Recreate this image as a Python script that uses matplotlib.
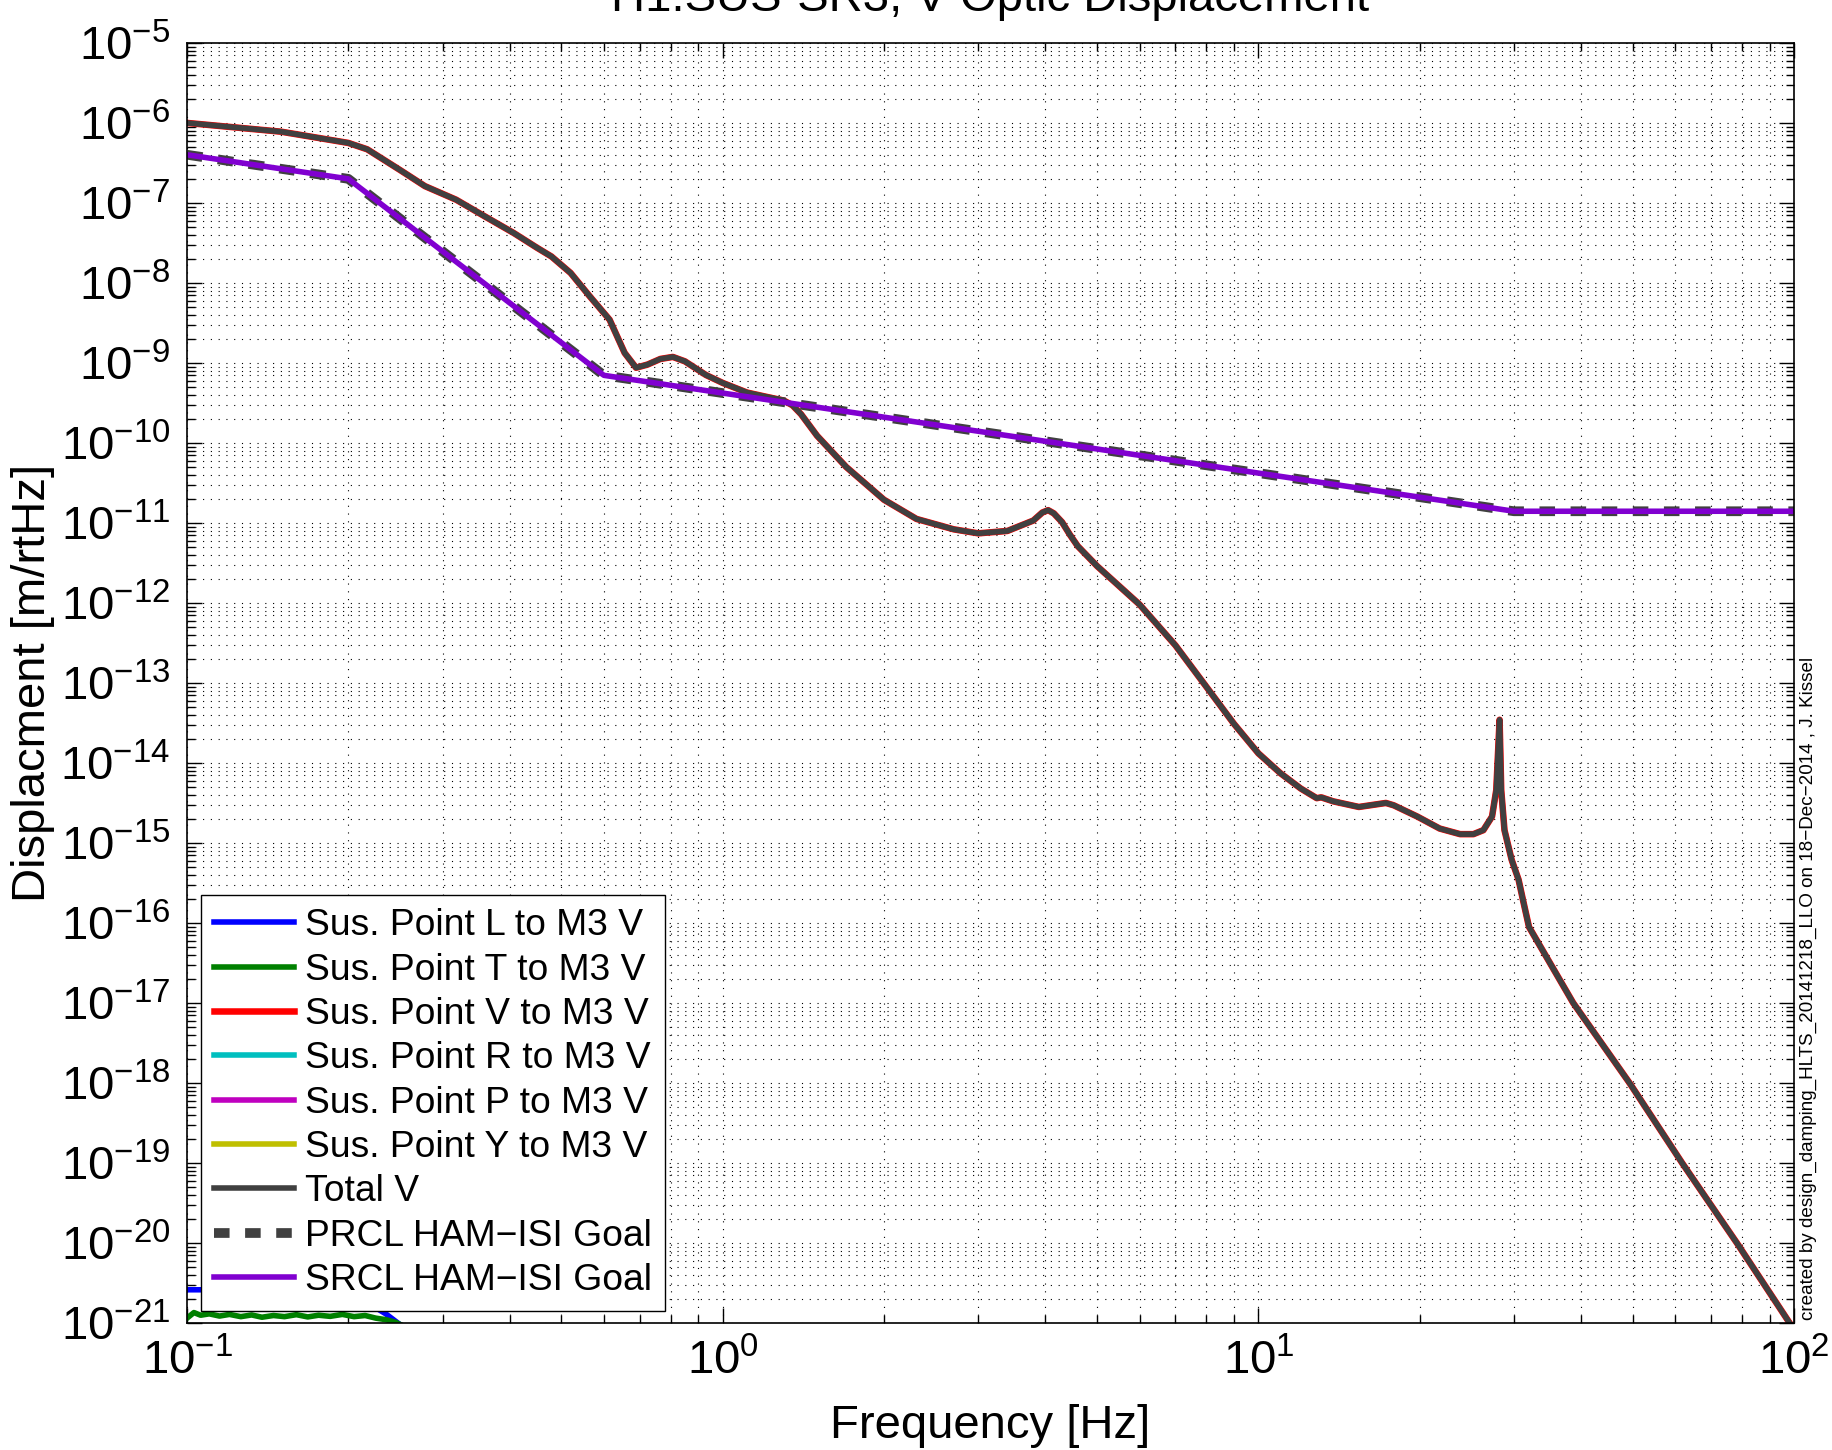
import numpy as np
import matplotlib
matplotlib.use("Agg")
import matplotlib.pyplot as plt
from matplotlib.ticker import LogLocator, NullFormatter

plt.rcParams["font.family"] = ["Liberation Sans", "DejaVu Sans"]
plt.rcParams["mathtext.fontset"] = "custom"
plt.rcParams["mathtext.rm"] = "Liberation Sans"
plt.rcParams["mathtext.it"] = "Liberation Sans:italic"
plt.rcParams["mathtext.bf"] = "Liberation Sans:bold"

# Total V optic displacement, log10 of m/rtHz
freq_total = [0.1, 0.15, 0.2, 0.217, 0.25, 0.278, 0.318, 0.36, 0.407, 0.45,
              0.479, 0.52, 0.565, 0.615, 0.656, 0.689, 0.724, 0.765, 0.807, 0.85,
              0.93, 1.0, 1.11, 1.2, 1.3, 1.35, 1.4, 1.5, 1.7, 2.0, 2.3,
              2.7, 3.0, 3.4, 3.8, 3.95, 4.05, 4.15, 4.3, 4.45, 4.6, 5.0, 6.0, 7.0,
              8.0, 9.0, 10, 11, 12, 12.85, 13.1, 13.8, 15.4, 17.3,
              17.9, 19.8, 21.8, 23.8, 25.2, 26.3, 27.3, 27.8, 28.2, 28.4,
              28.8, 29.7, 30.6, 31.2, 32.0, 38.7, 49.3, 61.8, 78.2, 98.1, 100]
log_total = [-6.0, -6.11, -6.25, -6.33, -6.59, -6.79, -6.96, -7.17, -7.375, -7.56,
             -7.67, -7.875, -8.17, -8.46, -8.875, -9.06, -9.02, -8.95, -8.925, -8.98,
             -9.15, -9.25, -9.37, -9.42, -9.47, -9.53, -9.64, -9.91, -10.30, -10.71, -10.95,
             -11.08, -11.13, -11.10, -10.97, -10.87, -10.84, -10.88, -10.99, -11.15, -11.29,
             -11.54, -12.02, -12.53,
             -13.05, -13.51, -13.88, -14.13, -14.32, -14.44, -14.43, -14.48, -14.55, -14.50,
             -14.53, -14.67, -14.82, -14.89, -14.89, -14.84, -14.67, -14.34, -13.46, -14.34,
             -14.84, -15.21, -15.46, -15.72, -16.05, -17.0, -18.0, -19.0, -20.0, -21.0, -21.08]

# HAM-ISI goals
freq_goal = [0.1, 0.2, 0.6, 30, 100]
prcl_goal = [4e-7, 2e-7, 7e-10, 1.4e-11, 1.4e-11]
srcl_goal = [4e-7, 2e-7, 7e-10, 1.4e-11, 1.4e-11]

# individual suspension point contributions (mostly below the plotted range)
freq_L = [0.1, 0.15, 0.2, 0.22, 0.235, 0.25, 0.3, 0.5, 1, 100]
sus_L = [2.6e-21, 2.6e-21, 2.4e-21, 1.7e-21, 1.3e-21, 9.5e-22, 4e-22, 2e-23, 1e-24, 1e-30]
freq_T = [0.100, 0.103, 0.106, 0.110, 0.115, 0.120, 0.126, 0.132, 0.138, 0.145,
          0.152, 0.160, 0.168, 0.176, 0.185, 0.195, 0.205, 0.215, 0.225, 0.235,
          0.245, 0.255, 0.3, 0.5, 1, 100]
sus_T = [1.15e-21, 1.35e-21, 1.25e-21, 1.3e-21, 1.22e-21, 1.28e-21, 1.2e-21, 1.26e-21, 1.18e-21, 1.24e-21,
         1.2e-21, 1.27e-21, 1.19e-21, 1.25e-21, 1.21e-21, 1.28e-21, 1.2e-21, 1.24e-21, 1.15e-21, 1.1e-21,
         1.02e-21, 9e-22, 4e-22, 2e-23, 1e-24, 1e-30]
freq_small = [0.1, 1, 100]
sus_R = [5e-23, 1e-24, 1e-30]
sus_P = [3e-23, 8e-25, 1e-30]
sus_Y = [2e-23, 5e-25, 1e-30]

total_V = 10.0 ** np.array(log_total)

fig = plt.figure(figsize=(18.32, 14.5), dpi=100)
ax = fig.add_axes([0.1021, 0.0876, 0.8772, 0.8828])

lw = 4.0
ax.loglog(freq_L, sus_L, color="#0000FF", lw=lw, label="Sus. Point L to M3 V")
ax.loglog(freq_T, sus_T, color="#008000", lw=lw, label="Sus. Point T to M3 V")
ax.loglog(freq_total, total_V, color="#FF0000", lw=lw + 0.7, label="Sus. Point V to M3 V")
ax.loglog(freq_small, sus_R, color="#00BFBF", lw=lw, label="Sus. Point R to M3 V")
ax.loglog(freq_small, sus_P, color="#BF00BF", lw=lw, label="Sus. Point P to M3 V")
ax.loglog(freq_small, sus_Y, color="#BFBF00", lw=lw, label="Sus. Point Y to M3 V")
ax.loglog(freq_total, total_V, color="#404040", lw=lw, label="Total V")
ax.loglog(freq_goal, prcl_goal, color="#404040", lw=7.0, dashes=(1.6, 1.6),
          label="PRCL HAM\u2212ISI Goal")
ax.loglog(freq_goal, srcl_goal, color="#8000D0", lw=lw, label="SRCL HAM\u2212ISI Goal")

ax.set_xlim(0.1, 100)
ax.set_ylim(1e-21, 1e-5)
ax.set_yticks(10.0 ** np.arange(-21, -4))
ax.xaxis.set_minor_locator(LogLocator(base=10, subs=np.arange(2, 10), numticks=100))
ax.yaxis.set_minor_locator(LogLocator(base=10, subs=np.arange(2, 10), numticks=100))
ax.xaxis.set_minor_formatter(NullFormatter())
ax.yaxis.set_minor_formatter(NullFormatter())

ax.grid(True, which="both", color="black", linestyle=(0, (1, 6)), linewidth=0.8)
ax.tick_params(which="both", direction="in", top=True, right=True, width=1.0,
               labelsize=34)
ax.tick_params(which="major", length=11, pad=12)
ax.tick_params(which="minor", length=6)
for s in ax.spines.values():
    s.set_linewidth(1.2)

ax.set_xlabel("Frequency [Hz]", fontsize=34, labelpad=14)
ax.set_ylabel("Displacment [m/rtHz]", fontsize=34, labelpad=4)

fig.text(0.5404, 1 - 11 / 1450, "H1:SUS-SR3, V Optic Displacement", fontsize=34,
         ha="center", va="baseline")
fig.text(0.9872, 0.0895, "created by design_damping_HLTS_20141218_LLO on 18\u2212Dec\u22122014 , J. Kissel",
         rotation=90, ha="center", va="bottom", fontsize=13.6)

leg = ax.legend(loc="lower left", bbox_to_anchor=(0.0087, 0.0094), borderaxespad=0,
                fontsize=26.8, handlelength=2.15, handletextpad=0.3, labelspacing=0.25,
                borderpad=0.35, fancybox=False, framealpha=1, edgecolor="black")
leg.get_frame().set_linewidth(1.0)

fig.savefig("out.png", dpi=100)
